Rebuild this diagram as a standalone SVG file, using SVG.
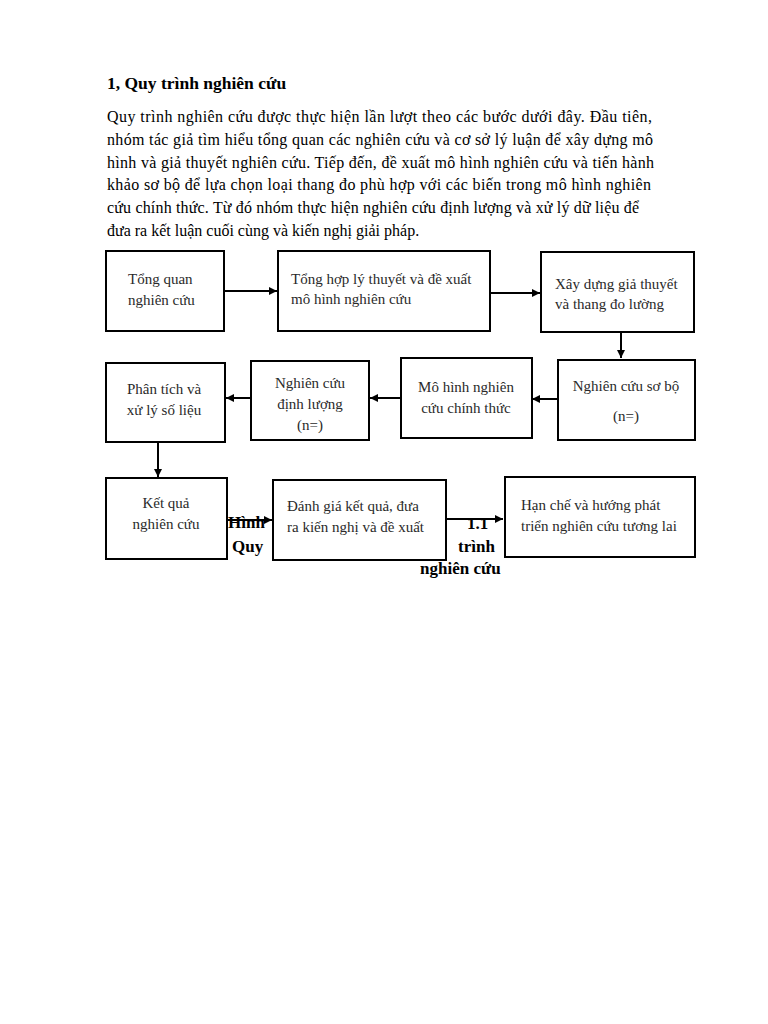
<svg xmlns="http://www.w3.org/2000/svg" width="768" height="1024" viewBox="0 0 768 1024">
<style>
.t{font-family:"Liberation Serif","Times New Roman",serif;fill:#000}
.h{font-size:17.5px;font-weight:bold}
.p{font-size:16px}
.b{font-family:"Liberation Serif","Times New Roman",serif;font-size:15px;fill:#2a2a2a}
.c{text-anchor:middle}
.box{fill:#fff;stroke:#000;stroke-width:2}
.ln{stroke:#000;stroke-width:2;fill:none}
.ov{font-family:"Liberation Serif","Times New Roman",serif;font-size:17px;font-weight:bold;fill:#000}
</style>
<defs>
<marker id="ah" viewBox="0 0 10 10" refX="10" refY="5" markerWidth="4" markerHeight="4" orient="auto" markerUnits="strokeWidth">
<path d="M0,0 L10,5 L0,10 z" fill="#000"/>
</marker>
</defs>
<rect width="768" height="1024" fill="#fff"/>
<text class="t h" x="107" y="89">1, Quy trình nghiên cứu</text>
<g class="t p">
<text x="107" y="122" textLength="545" lengthAdjust="spacing">Quy trình nghiên cứu được thực hiện lần lượt theo các bước dưới đây. Đầu tiên,</text>
<text x="107" y="145" textLength="546" lengthAdjust="spacing">nhóm tác giả tìm hiểu tổng quan các nghiên cứu và cơ sở lý luận để xây dựng mô</text>
<text x="107" y="168" textLength="547" lengthAdjust="spacing">hình và giả thuyết nghiên cứu. Tiếp đến, đề xuất mô hình nghiên cứu và tiến hành</text>
<text x="107" y="190" textLength="544" lengthAdjust="spacing">khảo sơ bộ để lựa chọn loại thang đo phù hợp với các biến trong mô hình nghiên</text>
<text x="107" y="213" textLength="532" lengthAdjust="spacing">cứu chính thức. Từ đó nhóm thực hiện nghiên cứu định lượng và xử lý dữ liệu để</text>
<text x="107" y="236">đưa ra kết luận cuối cùng và kiến nghị giải pháp.</text>
</g>
<g id="connectors">
<line class="ln" x1="224" y1="291" x2="277" y2="291" marker-end="url(#ah)"/>
<line class="ln" x1="490" y1="293" x2="540" y2="293" marker-end="url(#ah)"/>
<line class="ln" x1="621" y1="332" x2="621" y2="358" marker-end="url(#ah)"/>
<line class="ln" x1="557" y1="399" x2="532" y2="399" marker-end="url(#ah)"/>
<line class="ln" x1="400" y1="398" x2="370" y2="398" marker-end="url(#ah)"/>
<line class="ln" x1="251" y1="398" x2="226" y2="398" marker-end="url(#ah)"/>
<line class="ln" x1="158" y1="443" x2="158" y2="477" marker-end="url(#ah)"/>
<line class="ln" x1="228" y1="520" x2="272" y2="520" marker-end="url(#ah)"/>
<line class="ln" x1="447" y1="519" x2="503" y2="519" marker-end="url(#ah)"/>
</g>
<g id="n1"><rect class="box" x="106" y="251" width="118" height="80"/>
<text class="b" x="128" y="284">Tổng quan</text><text class="b" x="128" y="305">nghiên cứu</text></g>
<g id="n2"><rect class="box" x="278" y="251" width="212" height="80"/>
<text class="b" x="291" y="284">Tổng hợp lý thuyết và đề xuất</text><text class="b" x="291" y="304">mô hình nghiên cứu</text></g>
<g id="n3"><rect class="box" x="541" y="252" width="153" height="80"/>
<text class="b" x="555" y="289">Xây dựng giả thuyết</text><text class="b" x="555" y="309">và thang đo lường</text></g>
<g id="n4"><rect class="box" x="558" y="360" width="137" height="80"/>
<text class="b c" x="626" y="391">Nghiên cứu sơ bộ</text><text class="b c" x="626" y="421">(n=)</text></g>
<g id="n5"><rect class="box" x="401" y="358" width="131" height="80"/>
<text class="b c" x="466" y="392">Mô hình nghiên</text><text class="b c" x="466" y="413">cứu chính thức</text></g>
<g id="n6"><rect class="box" x="251" y="361" width="118" height="79"/>
<text class="b c" x="310" y="388">Nghiên cứu</text><text class="b c" x="310" y="409">định lượng</text><text class="b c" x="310" y="430">(n=)</text></g>
<g id="n7"><rect class="box" x="106" y="363" width="119" height="79"/>
<text class="b c" x="164" y="394">Phân tích và</text><text class="b c" x="164" y="415">xử lý số liệu</text></g>
<g id="n8"><rect class="box" x="106" y="478" width="121" height="81"/>
<text class="b c" x="166" y="508">Kết quả</text><text class="b c" x="166" y="529">nghiên cứu</text></g>
<g id="n9"><rect class="box" x="273" y="480" width="173" height="80"/>
<text class="b" x="287" y="511">Đánh giá kết quả, đưa</text><text class="b" x="287" y="532">ra kiến nghị và đề xuất</text></g>
<g id="n10"><rect class="box" x="505" y="477" width="190" height="80"/>
<text class="b" x="521" y="510">Hạn chế và hướng phát</text><text class="b" x="521" y="531">triển nghiên cứu tương lai</text></g>
<g id="caption">
<text class="ov" x="228" y="528">Hình</text>
<text class="ov" x="232" y="552">Quy</text>
<text class="ov" x="467" y="529">1.1</text>
<text class="ov" x="458" y="552">trình</text>
<text class="ov" x="420" y="574">nghiên cứu</text>
</g>
</svg>
